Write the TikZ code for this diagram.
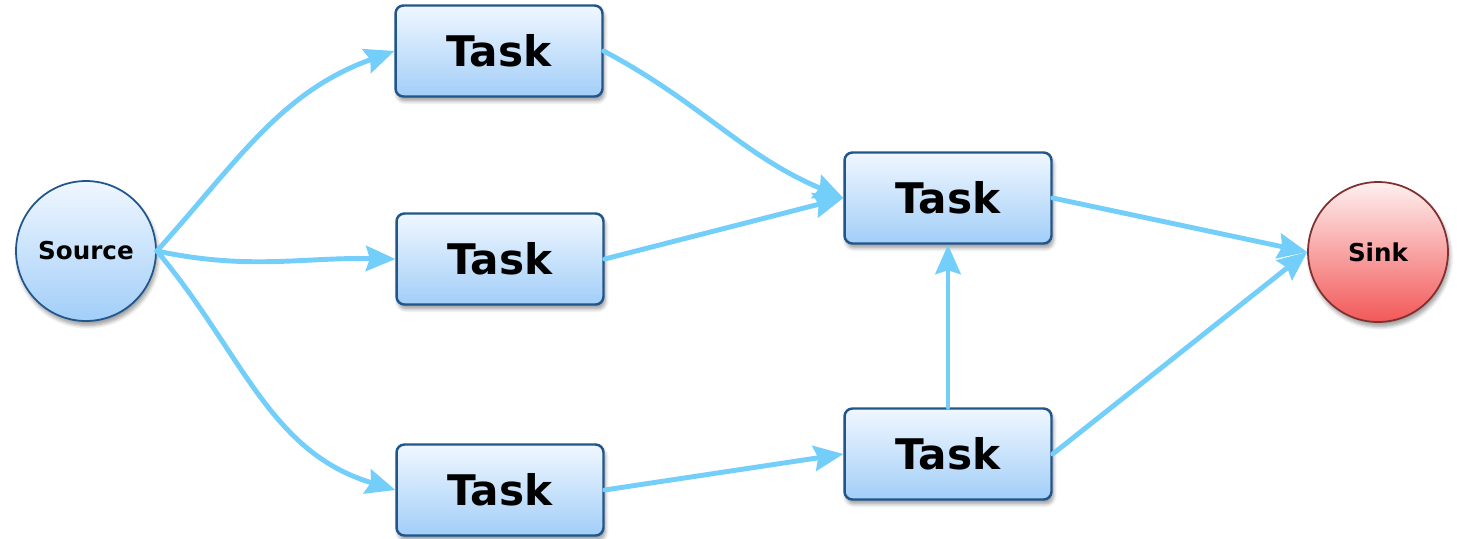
\documentclass[tikz,border=0pt]{standalone}
\usepackage{fontspec}
\setmainfont{DejaVu Sans}
\usetikzlibrary{arrows.meta,shadows.blur}

\definecolor{taskTop}{RGB}{240,247,255}
\definecolor{taskBot}{RGB}{162,206,248}
\definecolor{taskLine}{RGB}{32,86,140}
\definecolor{sinkTop}{RGB}{255,240,240}
\definecolor{sinkBot}{RGB}{242,88,88}
\definecolor{sinkLine}{RGB}{128,48,48}
\definecolor{flow}{RGB}{115,206,250}

\tikzset{
  taskbox/.style={draw=taskLine, line width=1.4pt, rounded corners=4.5pt,
    top color=taskTop, bottom color=taskBot,
    minimum width=4.14cm, minimum height=1.82cm,
    font=\fontsize{24}{28}\selectfont\bfseries,
    blur shadow={shadow xshift=1pt, shadow yshift=-2.5pt, shadow blur steps=6, shadow opacity=40}},
  endpoint/.style={circle, draw, line width=1pt, minimum size=2.8cm, inner sep=0pt,
    font=\fontsize{14}{16}\selectfont\bfseries,
    blur shadow={shadow xshift=1pt, shadow yshift=-2.5pt, shadow blur steps=6, shadow opacity=40}},
  sourcenode/.style={endpoint, draw=taskLine, top color=taskTop, bottom color=taskBot},
  sinknode/.style={endpoint, draw=sinkLine, top color=sinkTop, bottom color=sinkBot},
  flowline/.style={draw=flow, line width=2.8pt, line cap=round,
    -{Stealth[length=17pt, width=15pt, inset=2.5pt, line width=0pt]}}
}

\begin{document}
\begin{tikzpicture}[x=0.02cm, y=-0.02cm]
  \useasboundingbox (0,0) rectangle (1457,538);

  % nodes
  \node[sourcenode] (src) at (86,251) {Source};
  \node[sinknode]   (snk) at (1378,252) {Sink};
  \node[taskbox] (t1) at (499,51)  {Task};
  \node[taskbox] (t2) at (500,259) {Task};
  \node[taskbox] (t3) at (500,490) {Task};
  \node[taskbox] (t4) at (948,198) {Task};
  \node[taskbox] (t5) at (948,454) {Task};

  % flows out of the source
  \path[flowline] (src.east) to[out=48, in=200] (t1.west);
  \path[flowline] (src.east) to[out=-12, in=179] (t2.west);
  \path[flowline] (src.east) to[out=-50, in=163] (t3.west);

  % flows between tasks
  \path[flowline] (t1.east) to[out=-28, in=157] (t4.west);
  \path[flowline] (t2.east) -- (t4.west);
  \path[flowline] (t3.east) -- (t5.west);
  \path[flowline] (t5.north) -- (t4.south);

  % flows into the sink
  \path[flowline] (t4.east) -- (snk.west);
  \path[flowline] (t5.east) -- (snk.west);
\end{tikzpicture}
\end{document}
